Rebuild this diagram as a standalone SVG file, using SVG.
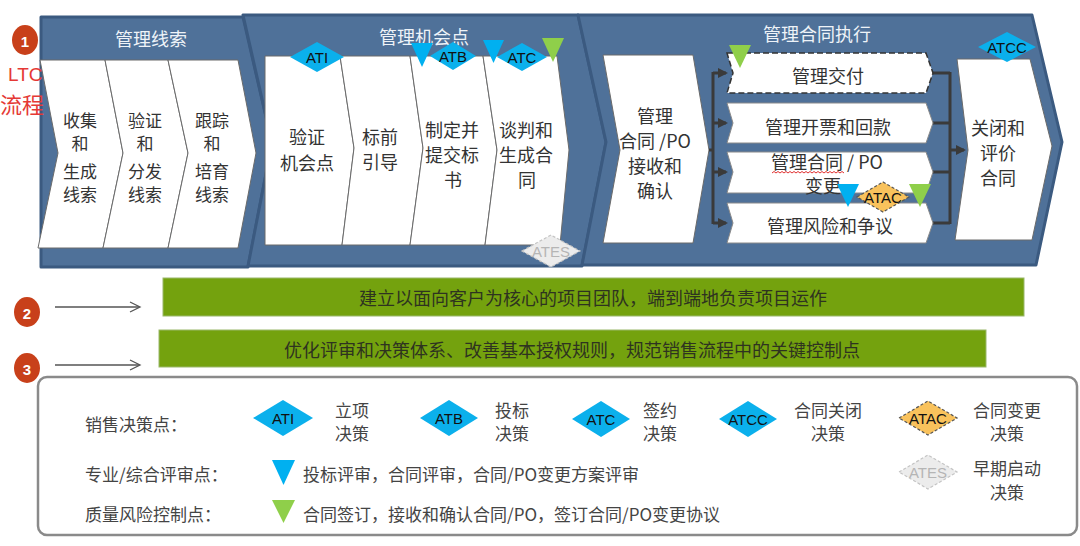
<svg xmlns="http://www.w3.org/2000/svg" width="1080" height="546" viewBox="0 0 1080 546">
<defs>
<style>
.pnl{fill:#4f7199;stroke:#3b5a80;stroke-width:3;stroke-linejoin:round}
.ttl{font-family:'Noto Sans CJK SC','Noto Sans',sans-serif;font-size:18px;fill:#eef3f8;text-anchor:middle;dominant-baseline:central}
.chev{fill:#fff;stroke:#6b6b6b;stroke-width:1}
.row{fill:#fff;stroke:#8a8a8a;stroke-width:1}
.rowd{fill:#fff;stroke:#333;stroke-width:1.5;stroke-dasharray:6 3}
.t{font-family:'Noto Sans CJK SC','Noto Sans',sans-serif;font-size:18px;fill:#333;text-anchor:middle;dominant-baseline:central}
.t7{font-family:'Noto Sans CJK SC','Noto Sans',sans-serif;font-size:17px;fill:#333;text-anchor:middle;dominant-baseline:central}
.lt{font-family:'Noto Sans CJK SC','Noto Sans',sans-serif;font-size:17px;fill:#444;dominant-baseline:central}
.lc{font-family:'Noto Sans CJK SC','Noto Sans',sans-serif;font-size:17px;fill:#444;text-anchor:middle;dominant-baseline:central}
.bt{font-family:'Noto Sans CJK SC','Noto Sans',sans-serif;font-size:18px;fill:#2e3320;text-anchor:middle;dominant-baseline:central}
.dia{fill:#0bb0ec}
.dac{fill:#f9c25c;stroke:#555;stroke-width:1.2;stroke-dasharray:3 2}
.des{fill:#ececec;stroke:#c4c4c4;stroke-width:1.2;stroke-dasharray:3 2}
.dt{font-family:'Liberation Sans',Arial,sans-serif;font-size:15px;fill:#111;text-anchor:middle;dominant-baseline:central}
.dte{font-family:'Liberation Sans',Arial,sans-serif;font-size:15px;fill:#b5b5b5;text-anchor:middle;dominant-baseline:central}
.tb{fill:#00b0f0}
.tg{fill:#8fcf4a}
.conn{stroke:#3a3a3a;stroke-width:3;fill:none}
.thin{stroke:#555;stroke-width:1.3;fill:none}
.num{fill:#c8401a}
.numt{font-family:'Liberation Sans',Arial,sans-serif;font-size:15px;font-weight:bold;fill:#fff;text-anchor:middle;dominant-baseline:central}
.bar{fill:#74a20e;stroke:#9ab86a;stroke-width:1}
</style>
<marker id="ah" markerWidth="10" markerHeight="10" refX="8" refY="5" orient="auto" markerUnits="userSpaceOnUse"><path d="M0,0 L10,5 L0,10 z" fill="#3a3a3a"/></marker>
</defs>
<rect width="1080" height="546" fill="#fff"/>

<!-- Panels -->
<g id="panel-leads">
<polygon class="pnl" points="41,17 243,17 272,143 248,267 41,267"/>
<text class="ttl" x="151" y="38">管理线索</text>
</g>
<g id="panel-opportunity">
<polygon class="pnl" points="243,15 578,15 606,142 582,266 248,266 272,143"/>
<text class="ttl" x="424" y="36">管理机会点</text>
</g>
<g id="panel-contract">
<polygon class="pnl" points="578,15 1032,15 1062,142 1036,265 582,265 606,142"/>
<text class="ttl" x="817" y="33">管理合同执行</text>
</g>

<!-- Panel 1 chevrons -->
<g id="collect-leads">
<polygon class="chev" points="40,60 105,60 123,153 103,248 38,248 58,153"/>
<text class="t7" x="80" y="119">收集</text><text class="t7" x="80" y="142">和</text>
<text class="t7" x="80" y="170">生成</text><text class="t7" x="80" y="193">线索</text>
</g>
<g id="verify-leads">
<polygon class="chev" points="105,60 168,60 188,153 168,248 103,248 123,153"/>
<text class="t7" x="145" y="119">验证</text><text class="t7" x="145" y="142">和</text>
<text class="t7" x="145" y="170">分发</text><text class="t7" x="145" y="193">线索</text>
</g>
<g id="track-leads">
<polygon class="chev" points="168,60 238,60 256,153 238,248 168,248 188,153"/>
<text class="t7" x="212" y="119">跟踪</text><text class="t7" x="212" y="142">和</text>
<text class="t7" x="212" y="170">培育</text><text class="t7" x="212" y="193">线索</text>
</g>

<!-- Panel 2 chevrons -->
<g id="verify-opportunity">
<polygon class="chev" points="265,56 340,56 354,148 342,245 265,245"/>
<text class="t" x="307" y="136">验证</text><text class="t" x="307" y="162">机会点</text>
</g>
<g id="pre-bid">
<polygon class="chev" points="340,56 410,56 423,148 410,245 342,245 354,148"/>
<text class="t" x="380" y="136">标前</text><text class="t" x="380" y="161">引导</text>
</g>
<g id="bid">
<polygon class="chev" points="410,56 483,56 497,150 485,245 410,245 423,148"/>
<text class="t" x="452" y="129">制定并</text><text class="t" x="452" y="154">提交标</text><text class="t" x="453" y="179">书</text>
</g>
<g id="negotiate">
<polygon class="chev" points="483,56 557,56 569,150 560,245 485,245 497,150"/>
<text class="t" x="526" y="129">谈判和</text><text class="t" x="526" y="154">生成合</text><text class="t" x="527" y="179">同</text>
</g>

<!-- Panel 3 -->
<g id="receive-contract">
<polygon class="chev" points="603,55 693,55 709,150 693,243 603,243 620,150"/>
<text class="t" x="655" y="115">管理</text><text class="t" x="655" y="140">合同 /PO</text>
<text class="t" x="655" y="165">接收和</text><text class="t" x="655" y="190">确认</text>
</g>

<g id="connectors">
<line class="conn" x1="709" y1="150" x2="713" y2="150"/>
<line class="conn" x1="713" y1="72" x2="713" y2="224"/>
<line class="conn" x1="713" y1="73" x2="726" y2="73" marker-end="url(#ah)"/>
<line class="conn" x1="713" y1="123" x2="726" y2="123" marker-end="url(#ah)"/>
<line class="conn" x1="713" y1="172" x2="726" y2="172" marker-end="url(#ah)"/>
<line class="conn" x1="713" y1="223" x2="726" y2="223" marker-end="url(#ah)"/>
<line class="conn" x1="930" y1="73" x2="950" y2="73"/>
<line class="conn" x1="930" y1="123" x2="950" y2="123"/>
<line class="conn" x1="930" y1="172" x2="950" y2="172"/>
<line class="conn" x1="930" y1="223" x2="950" y2="223"/>
<line class="conn" x1="950" y1="72" x2="950" y2="224"/>
<line class="conn" x1="950" y1="150" x2="964" y2="150" marker-end="url(#ah)"/>
<line class="thin" x1="55" y1="307" x2="139" y2="307"/>
<polyline class="thin" points="130,302 140,307 130,312"/>
<line class="thin" x1="55" y1="365" x2="139" y2="365"/>
<polyline class="thin" points="130,360 140,365 130,370"/>
</g>

<g id="manage-delivery">
<polygon class="rowd" points="727,53 926,53 933,73 926,93 727,93 733,73"/>
<text class="t" x="828" y="75">管理交付</text>
</g>
<g id="manage-billing">
<polygon class="row" points="727,103 926,103 933,123 926,143 727,143 733,123"/>
<text class="t" x="828" y="126">管理开票和回款</text>
</g>
<g id="manage-change">
<polygon class="row" points="727,152 926,152 933,172 926,193 727,193 733,172"/>
<text class="t" x="827" y="161">管理合同 / PO</text>
<text class="t" x="823" y="185">变更</text>
<path d="M772,173 l2,-1.5 l2,1.5 l2,-1.5 l2,1.5 l2,-1.5 l2,1.5 l2,-1.5 l2,1.5 l2,-1.5 l2,1.5 l2,-1.5 l2,1.5 l2,-1.5 l2,1.5 l2,-1.5 l2,1.5 l2,-1.5 l2,1.5 l2,-1.5 l2,1.5 l2,-1.5 l2,1.5 l2,-1.5 l2,1.5 l2,-1.5 l2,1.5 l2,-1.5 l2,1.5 l2,-1.5 l2,1.5 l2,-1.5 l2,1.5 l2,-1.5 l2,1.5 l2,-1.5 l2,1.5" fill="none" stroke="#e03030" stroke-width="1"/>
</g>
<g id="manage-risk">
<polygon class="row" points="727,203 926,203 933,223 926,243 727,243 733,223"/>
<text class="t" x="830" y="225">管理风险和争议</text>
</g>
<g id="close-contract">
<polygon class="chev" points="957,59 1030,59 1052,146 1032,240 955,240 968,150"/>
<text class="t" x="998" y="127">关闭和</text><text class="t" x="998" y="152">评价</text><text class="t" x="998" y="177">合同</text>
</g>

<!-- Markers on process -->
<g id="ati">
<polygon class="dia" points="290,57 317,42 344,57 317,72"/>
<text class="dt" x="317" y="57">ATI</text>
</g>
<g id="atb">
<polygon class="dia" points="430,56 453,42 476,56 453,70"/>
<text class="dt" x="453" y="56">ATB</text>
</g>
<g id="atc">
<polygon class="dia" points="497,57 522,43 547,57 522,71"/>
<text class="dt" x="522" y="57">ATC</text>
</g>
<g id="review-bid"><polygon class="tb" points="411,43 433,43 422,67"/></g>
<g id="review-contract"><polygon class="tb" points="483,40 504,40 493.5,63"/></g>
<g id="quality-sign"><polygon class="tg" points="542,38 564,38 553,62"/></g>
<g id="ates">
<polygon class="des" points="522,251 551,235 580,251 551,267"/>
<text class="dte" x="551" y="251">ATES</text>
</g>
<g id="quality-delivery"><polygon class="tg" points="729,45 751,45 740,68"/></g>
<g id="review-change"><polygon class="tb" points="837,184 859,184 848,207"/></g>
<g id="atac">
<polygon class="dac" points="857,197 883,182 909,197 883,212"/>
<text class="dt" x="883" y="197">ATAC</text>
</g>
<g id="quality-change"><polygon class="tg" points="909,184 931,184 920,207"/></g>
<g id="atcc">
<polygon class="dia" points="978,47 1007,32 1036,47 1007,62"/>
<text class="dt" x="1007" y="47">ATCC</text>
</g>

<!-- Left labels -->
<g id="label-1">
<ellipse class="num" cx="25" cy="40" rx="13" ry="15"/>
<text class="numt" x="25" y="41">1</text>
<text x="8" y="81" font-family="'Liberation Sans',Arial,sans-serif" font-size="19" fill="#e53935">LTC</text>
<text x="0" y="113" font-family="'Noto Sans CJK SC',sans-serif" font-size="22" fill="#e53935">流程</text>
</g>
<g id="label-2">
<ellipse class="num" cx="27" cy="312" rx="13" ry="15"/>
<text class="numt" x="27" y="313">2</text>
</g>
<g id="label-3">
<ellipse class="num" cx="27" cy="368" rx="13" ry="15"/>
<text class="numt" x="27" y="369">3</text>
</g>

<g id="bar-team">
<rect class="bar" x="163" y="278" width="861" height="38"/>
<text class="bt" x="593" y="297">建立以面向客户为核心的项目团队，端到端地负责项目运作</text>
</g>
<g id="bar-decision">
<rect class="bar" x="159" y="330" width="827" height="37"/>
<text class="bt" x="572" y="349">优化评审和决策体系、改善基本授权规则，规范销售流程中的关键控制点</text>
</g>

<!-- Legend -->
<g id="legend">
<rect x="38" y="377" width="1039" height="158" rx="9" fill="#fff" stroke="#8a8a8a" stroke-width="2.5"/>
<text class="lt" x="85" y="423">销售决策点：</text>
<text class="lt" x="85" y="473">专业/综合评审点：</text>
<text class="lt" x="85" y="513">质量风险控制点：</text>
<polygon class="dia" points="253,418 283,400 313,418 283,436"/>
<text class="dt" x="283" y="418">ATI</text>
<text class="lc" x="352" y="409">立项</text><text class="lc" x="352" y="432">决策</text>
<polygon class="dia" points="420,418 449,400 478,418 449,436"/>
<text class="dt" x="449" y="418">ATB</text>
<text class="lc" x="512" y="409">投标</text><text class="lc" x="512" y="432">决策</text>
<polygon class="dia" points="572,419 601,401 630,419 601,437"/>
<text class="dt" x="601" y="419">ATC</text>
<text class="lc" x="660" y="409">签约</text><text class="lc" x="660" y="432">决策</text>
<polygon class="dia" points="719,419 748,401 777,419 748,437"/>
<text class="dt" x="748" y="419">ATCC</text>
<text class="lc" x="828" y="409">合同关闭</text><text class="lc" x="828" y="432">决策</text>
<polygon class="dac" points="899,418 928,401 957,418 928,435"/>
<text class="dt" x="928" y="418">ATAC</text>
<text class="lc" x="1007" y="409">合同变更</text><text class="lc" x="1007" y="432">决策</text>
<polygon class="des" points="899,472 928,455 957,472 928,489"/>
<text class="dte" x="928" y="472">ATES</text>
<text class="lc" x="1007" y="467">早期启动</text><text class="lc" x="1007" y="491">决策</text>
<polygon class="tb" points="272,460 295,460 283.5,485"/>
<text class="lt" x="303" y="473" font-size="18">投标评审，合同评审，合同/PO变更方案评审</text>
<polygon class="tg" points="272,500 295,500 283.5,523"/>
<text class="lt" x="303" y="513" font-size="18">合同签订，接收和确认合同/PO，签订合同/PO变更协议</text>
</g>
</svg>
